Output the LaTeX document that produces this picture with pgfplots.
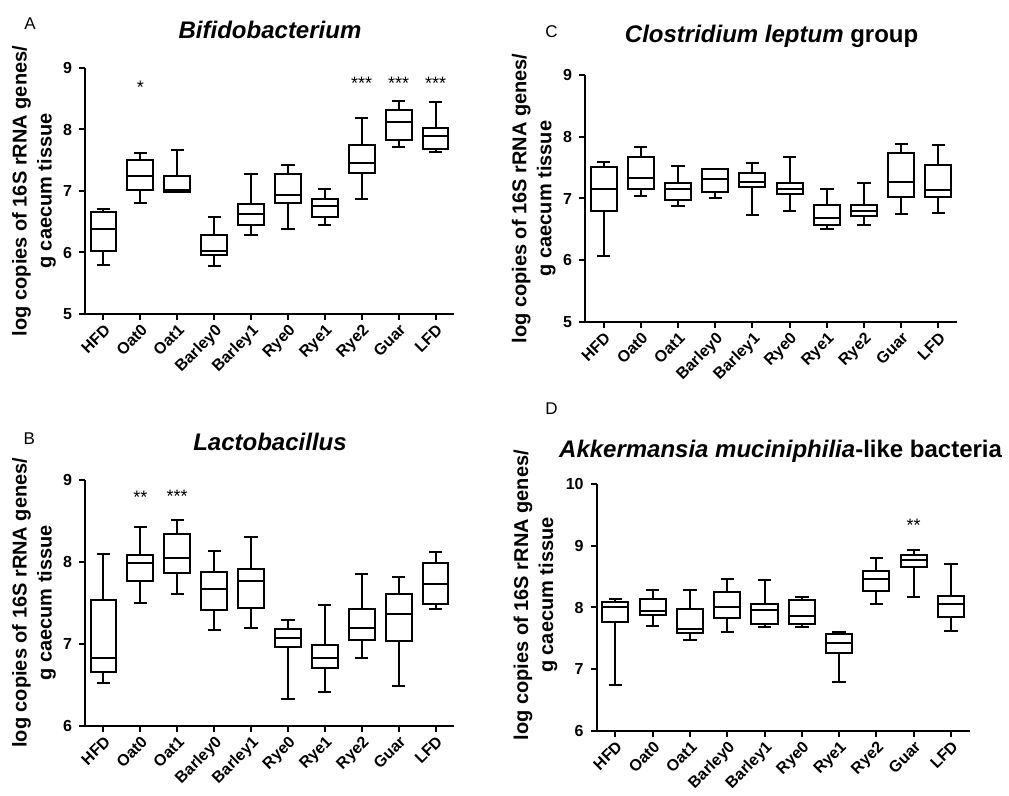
\documentclass[border=0pt]{standalone}
\usepackage{fontspec}
\setmainfont{Liberation Sans}
\usepackage{pgfplots}
\pgfplotsset{compat=1.18}
\usepgfplotslibrary{statistics}

% one box: position, lower whisker, lower quartile, median, upper quartile, upper whisker
\newcommand{\bx}[6]{\addplot[black, line width=1pt, boxplot prepared={draw position=#1,
  lower whisker=#2, lower quartile=#3, median=#4, upper quartile=#5, upper whisker=#6}] coordinates {};}
\newcommand{\stars}[3]{\node[font=\fontsize{9}{10}\selectfont] at (axis cs:#1,#2) {#3};}

\pgfplotsset{
  panel/.style={
    scale only axis,
    width=184.5pt, height=123pt,
    axis x line=bottom, axis y line=left,
    axis line style={-, line width=1pt},
    xmin=-0.5, xmax=9.5,
    enlargelimits=false,
    xtick={0,...,9},
    xticklabels={HFD,Oat0,Oat1,Barley0,Barley1,Rye0,Rye1,Rye2,Guar,LFD},
    tick align=outside,
    major tick length=3pt,
    tick style={line width=1pt, black},
    /pgf/number format/assume math mode=true,
    ticklabel style={font=\bfseries\fontsize{8}{9.6}\selectfont},
    xticklabel style={rotate=45, anchor=north east, inner sep=1pt},
    ylabel={log copies of 16S rRNA genes/\\g caecum tissue},
    ylabel style={font=\bfseries\fontsize{10}{12.5}\selectfont, align=center,
      at={(axis description cs:-0.138,0.5)}, anchor=center},
    boxplot/draw direction=y,
    boxplot/box extend=0.7,
    boxplot/whisker extend=0.36,
    clip=false,
  },
}

\begin{document}
\begin{tikzpicture}
\useasboundingbox (0,0) rectangle (504.5pt,-398pt);

% A
\begin{axis}[panel, at={(42.5pt,-157pt)}, anchor=south west,
  ymin=5, ymax=9, ytick={5,6,7,8,9}]
\bx{0}{5.79}{6.03}{6.38}{6.66}{6.70}
\bx{1}{6.80}{7.01}{7.25}{7.51}{7.62}
\bx{2}{6.98}{6.99}{7.02}{7.24}{7.66}
\bx{3}{5.78}{5.96}{6.03}{6.28}{6.58}
\bx{4}{6.29}{6.44}{6.62}{6.79}{7.27}
\bx{5}{6.39}{6.81}{6.93}{7.27}{7.43}
\bx{6}{6.45}{6.57}{6.76}{6.87}{7.04}
\bx{7}{6.87}{7.30}{7.46}{7.74}{8.19}
\bx{8}{7.72}{7.83}{8.13}{8.32}{8.47}
\bx{9}{7.64}{7.68}{7.90}{8.03}{8.45}
\stars{1}{8.68}{*}
\stars{7}{8.75}{***}
\stars{8}{8.75}{***}
\stars{9}{8.75}{***}
\end{axis}

% C
\begin{axis}[panel, at={(292.5pt,-161pt)}, anchor=south west, width=186pt, height=123.5pt,
  ymin=5, ymax=9, ytick={5,6,7,8,9}]
\bx{0}{6.07}{6.80}{7.15}{7.51}{7.59}
\bx{1}{7.04}{7.15}{7.34}{7.67}{7.84}
\bx{2}{6.88}{6.97}{7.16}{7.25}{7.52}
\bx{3}{7.00}{7.11}{7.31}{7.47}{7.48}
\bx{4}{6.74}{7.18}{7.27}{7.42}{7.58}
\bx{5}{6.80}{7.07}{7.16}{7.25}{7.68}
\bx{6}{6.50}{6.57}{6.68}{6.90}{7.15}
\bx{7}{6.57}{6.72}{6.80}{6.89}{7.25}
\bx{8}{6.75}{7.02}{7.26}{7.73}{7.89}
\bx{9}{6.77}{7.02}{7.13}{7.54}{7.87}
\end{axis}

% B
\begin{axis}[panel, at={(42.5pt,-362.85pt)}, anchor=south west,
  ymin=6, ymax=9, ytick={6,7,8,9}]
\bx{0}{6.52}{6.65}{6.83}{7.53}{8.09}
\bx{1}{7.50}{7.77}{7.99}{8.08}{8.42}
\bx{2}{7.61}{7.86}{8.05}{8.34}{8.51}
\bx{3}{7.17}{7.41}{7.67}{7.88}{8.13}
\bx{4}{7.19}{7.43}{7.76}{7.91}{8.30}
\bx{5}{6.32}{6.96}{7.07}{7.18}{7.29}
\bx{6}{6.41}{6.70}{6.83}{6.98}{7.47}
\bx{7}{6.83}{7.05}{7.19}{7.42}{7.85}
\bx{8}{6.48}{7.03}{7.36}{7.60}{7.81}
\bx{9}{7.42}{7.48}{7.73}{7.99}{8.12}
\stars{1}{8.78}{**}
\stars{2}{8.80}{***}
\end{axis}

% D
\begin{axis}[panel, at={(298.35pt,-365.35pt)}, anchor=south west, width=186.5pt, height=123.2pt,
  ymin=6, ymax=10, ytick={6,7,8,9,10},
  ylabel style={at={(axis description cs:-0.164,0.55)}}]
\bx{0}{6.74}{7.76}{8.00}{8.09}{8.14}
\bx{1}{7.70}{7.88}{7.95}{8.14}{8.28}
\bx{2}{7.48}{7.59}{7.65}{7.98}{8.28}
\bx{3}{7.61}{7.83}{8.01}{8.25}{8.47}
\bx{4}{7.69}{7.74}{7.96}{8.06}{8.45}
\bx{5}{7.69}{7.74}{7.87}{8.12}{8.17}
\bx{6}{6.79}{7.26}{7.43}{7.57}{7.61}
\bx{7}{8.06}{8.26}{8.47}{8.60}{8.81}
\bx{8}{8.17}{8.66}{8.77}{8.86}{8.94}
\bx{9}{7.62}{7.85}{8.05}{8.19}{8.71}
\stars{8}{9.34}{**}
\end{axis}

% titles and panel letters
\node[font=\fontsize{12}{14}\selectfont\bfseries\itshape] at (135pt,-15pt) {Bifidobacterium};
\node[font=\fontsize{12}{14}\selectfont\bfseries] at (385.8pt,-18.3pt) {\textit{Clostridium leptum} group};
\node[font=\fontsize{12}{14}\selectfont\bfseries\itshape] at (135pt,-220.8pt) {Lactobacillus};
\node[font=\fontsize{12}{14}\selectfont\bfseries] at (390.3pt,-225.8pt) {\textit{Akkermansia muciniphilia}-like bacteria};
\node[font=\fontsize{8.5}{10}\selectfont] at (15pt,-12pt) {A};
\node[font=\fontsize{8.5}{10}\selectfont] at (275.8pt,-15.8pt) {C};
\node[font=\fontsize{8.5}{10}\selectfont] at (14.7pt,-219.2pt) {B};
\node[font=\fontsize{8.5}{10}\selectfont] at (275.8pt,-204.2pt) {D};
\end{tikzpicture}
\end{document}
